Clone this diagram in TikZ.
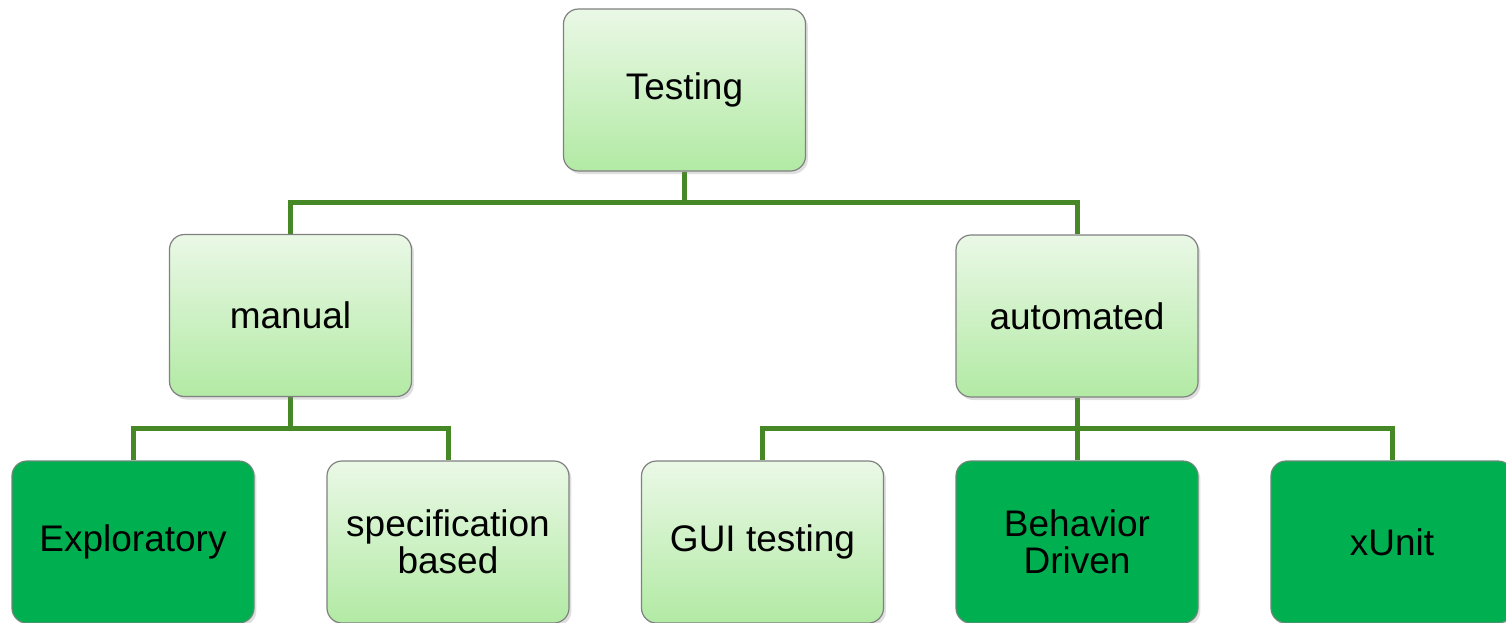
\documentclass[tikz,border=0pt]{standalone}
\usepackage{fontspec}
\setmainfont{Liberation Sans}
\usetikzlibrary{shadows,backgrounds}
\definecolor{linegreen}{RGB}{70,135,38}
\definecolor{lighttop}{RGB}{234,248,230}
\definecolor{lightbot}{RGB}{178,234,164}
\definecolor{darkfill}{RGB}{0,176,80}
\definecolor{boxborder}{RGB}{128,128,128}
\begin{document}
\begin{tikzpicture}[x=0.5pt,y=-0.5pt,
  box/.style={rectangle, rounded corners=7.5pt, draw=boxborder, line width=0.6pt,
    minimum width=121pt, minimum height=81pt, align=center,
    font=\fontsize{18.5}{18.5}\selectfont, text=black,
    drop shadow={shadow xshift=1.2pt, shadow yshift=-1.5pt, opacity=0.25}},
  lightbox/.style={box, top color=lighttop, bottom color=lightbot},
  darkbox/.style={box, fill=darkfill, draw=boxborder!80!darkfill},
  conn/.style={draw=linegreen, line width=2.5pt}]
\useasboundingbox (0,0) rectangle (1506,622);
\clip (0,0) rectangle (1506,622);
\coordinate (busA) at (0,202);
\coordinate (busB) at (0,428);
\node[lightbox] (T) at (684.5,90) {Testing};
\node[lightbox] (m) at (290.5,315.5) {manual};
\node[lightbox] (a) at (1077,316) {automated};
\node[darkbox] (ex) at (133,542) {Exploratory};
\node[lightbox] (sp) at (448,542) {specification\\based};
\node[lightbox] (gui) at (762.5,542) {GUI testing};
\node[darkbox] (bd) at (1077,542) {Behavior\\Driven};
\node[darkbox] (xu) at (1392,542) {xUnit};
\begin{scope}[on background layer]
\draw[conn] (T.south) -- (T.south |- busA) -| (m.north);
\draw[conn] (T.south |- busA) -| (a.north);
\draw[conn] (m.south) -- (m.south |- busB) -| (ex.north);
\draw[conn] (m.south |- busB) -| (sp.north);
\draw[conn] (a.south) -- (a.south |- busB) -| (gui.north);
\draw[conn] (a.south) -- (bd.north);
\draw[conn] (a.south |- busB) -| (xu.north);
\end{scope}
\end{tikzpicture}
\end{document}
